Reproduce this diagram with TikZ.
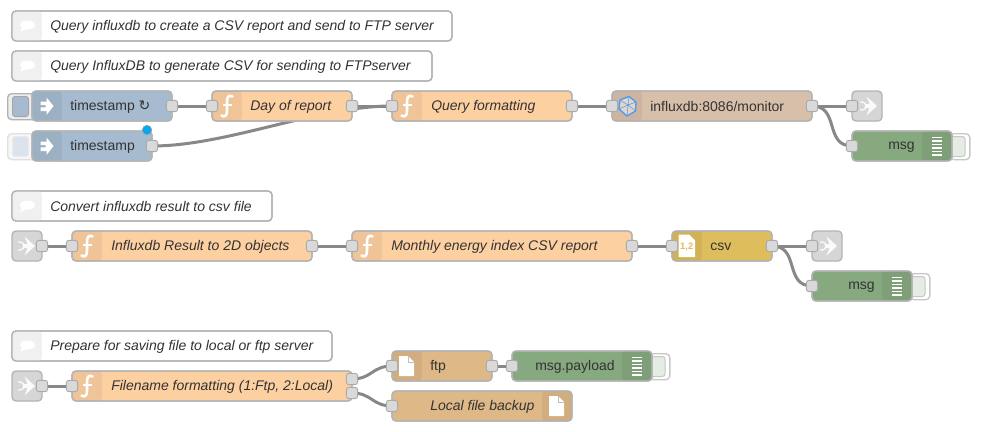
\documentclass[tikz,border=0pt]{standalone}
\usepackage{fontspec}
\setmainfont{Liberation Sans}
\newfontfamily\symfont{DejaVu Sans}
\usetikzlibrary{backgrounds}
\definecolor{cinject}{HTML}{A6BBCF}
\definecolor{cfunc}{HTML}{FDD0A2}
\definecolor{cfile}{HTML}{DEB887}
\definecolor{cdebug}{HTML}{87A980}
\definecolor{ccsv}{HTML}{DEBD5C}
\definecolor{cinflux}{HTML}{D8BFAA}
\definecolor{clink}{HTML}{D6D6D6}
\definecolor{cborder}{HTML}{B4B4B4}
\definecolor{cport}{HTML}{D9D9D9}
\definecolor{cwire}{HTML}{888888}
\definecolor{ctext}{HTML}{333333}
\definecolor{cblue}{HTML}{4A9CF2}
\definecolor{cdot}{HTML}{00A9F0}
\tikzset{
  nodebox/.style={draw=cborder,line width=1pt,rounded corners=3pt,inner sep=0pt,outer sep=0pt,
    anchor=north west,minimum height=22.5pt},
  commentbox/.style={nodebox,draw=black!30,fill=white},
  portbox/.style={draw=black!33,fill=cport,line width=.75pt,rounded corners=2pt,inner sep=0pt,
    minimum size=8.5pt},
  lbl/.style={anchor=west,inner sep=0pt,yshift=-0.6pt,text=ctext,font=\fontsize{10.5}{12}\selectfont},
  ilbl/.style={lbl,font=\fontsize{10.5}{12}\selectfont\itshape},
  wirepath/.style={draw=cwire,line width=2.25pt},
}
% name, x, y, w, colour
\newcommand\nrbody[5]{\node[nodebox,fill=#5,minimum width={#4*0.75pt}] (#1) at (#2,#3) {};}
% x, y, w of shaded panel
\newcommand\nrshade[3]{\begin{scope}
  \clip[rounded corners=3pt] (#1,#2) rectangle +(#3,30);
  \fill[black,opacity=.055] (#1,#2) rectangle +(#3,30);
  \end{scope}}
\newcommand\nrport[3]{\node[portbox] (#1) at (#2,#3) {};}
\newcommand\iconfunc[2]{\begin{scope}[shift={(#1,#2)}]
  \draw[white,line width=1.9pt,line cap=round] (20.5,5.5) .. controls (16.5,3.5) and (15,6) .. (15,11) -- (15,20) .. controls (15,25) and (12.5,26.5) .. (9.5,24.5);
  \draw[white,line width=1.5pt] (11,14) -- (20,14);
  \end{scope}}
\newcommand\iconinject[2]{\begin{scope}[shift={(#1,#2)}]
  \fill[white] (8.5,10.5) -- (14.5,10.5) -- (14.5,6.5) -- (21.5,15) -- (14.5,24) -- (14.5,20) -- (8.5,20) -- (8.5,16.4) -- (13.5,16.4) -- (13.5,14.2) -- (8.5,14.2) -- cycle;
  \end{scope}}
\newcommand\iconcomment[2]{\begin{scope}[shift={(#1,#2)}]
  \fill[white] (15.5,14) ellipse [x radius=7.5,y radius=4.5];
  \fill[white] (10,16) -- (8,21) -- (15,18) -- cycle;
  \end{scope}}
\newcommand\iconfile[2]{\begin{scope}[shift={(#1,#2)}]
  \fill[white] (7,5) -- (16,5) -- (22,11) -- (22,25) -- (7,25) -- cycle;
  \draw[black!25,line width=.4pt] (16,5) -- (16,11) -- (22,11);
  \end{scope}}
\newcommand\iconcsv[3]{\begin{scope}[shift={(#1,#2)}]
  \fill[white] (6.5,3.5) -- (17,3.5) -- (23,9.5) -- (23,26) -- (6.5,26) -- cycle;
  \node[inner sep=0pt,text=ccsv,font=\fontsize{7}{8}\selectfont\bfseries] (#3) at (14.7,16) {1,2};
  \end{scope}}
\newcommand\icondebug[2]{\begin{scope}[shift={(#1,#2)}]
  \foreach \yy in {6.5,10,13.5,17,20.5,24} \fill[white] (10,\yy-.6) rectangle (20,\yy+.6);
  \end{scope}}
\newcommand\iconlinkout[2]{\begin{scope}[shift={(#1,#2),opacity=.9}]
  \fill[white] (15,5) -- (25,15) -- (15,25) -- (18,17) -- (13,17) -- (13,13) -- (18,13) -- cycle;
  \draw[white,line width=1pt] (8,11) -- (10,11) arc (-90:90:4) -- (8,19);
  \end{scope}}
\newcommand\iconlinkin[2]{\begin{scope}[shift={(#1,#2)},opacity=.9]
  \fill[white] (12.5,5.5) -- (23,15) -- (12.5,24.5) -- (15.5,17) -- (11,17) -- (11,13) -- (15.5,13) -- cycle;
  \draw[white,line width=1pt] (6,11) -- (8,11) arc (-90:90:4) -- (6,19);
  \end{scope}}
\newcommand\iconinflux[2]{\begin{scope}[shift={(#1,#2)}]
  \fill[white,opacity=.45] (8,9) -- (17,5.5) -- (24,11) -- (23.5,20) -- (15,25) -- (7,18) -- cycle;
  \draw[cblue,line width=1pt,line join=round] (8,9) -- (17,5.5) -- (24,11) -- (23.5,20) -- (15,25) -- (7,18) -- cycle;
  \draw[cblue,line width=.4pt] (8,9) -- (16,14) -- (24,11) (16,14) -- (17,5.5) (16,14) -- (15,25) (16,14) -- (7,18) (16,14) -- (23.5,20);
  \end{scope}}
% name, x, y, w, text, text x
\newcommand\nrcomment[6]{\node[commentbox,minimum width={#4*0.75pt}] (#1) at (#2,#3) {};
  \begin{scope}
  \clip[rounded corners=3pt] (#2,#3) rectangle +(30,30);
  \fill[black!6] (#2,#3) rectangle +(30,30);
  \end{scope}
  \draw[draw=black!30,line width=1pt,rounded corners=3pt] (#2,#3) rectangle +(#4,30);
  \iconcomment{#2}{#3}
  \node[ilbl] (#1-label) at (#6,#3+15) {#5};}
% x, y, w: outline redraw
\newcommand\nroutline[3]{\draw[cborder,line width=1pt,rounded corners=3pt] (#1,#2) rectangle +(#3,30);}
% name, x, y, colour
\newcommand\debugbtn[4]{
  \node[draw=black!22,fill=white,line width=1pt,rounded corners=3pt,minimum width=15pt,minimum height=19.5pt,inner sep=0pt,anchor=north east] (#1) at (#2,#3) {};
  \node[draw=black!22,fill=#4!22!white,line width=.75pt,rounded corners=2pt,minimum width=12pt,minimum height=15pt,inner sep=0pt,anchor=north east] (#1-face) at (#2-5,#3+3) {};}
\newcommand\wirecurve[3]{\draw[wirepath] (#1.center) .. controls +(#3,0) and +(-#3,0) .. (#2.center);}
\begin{document}
\begin{tikzpicture}[x=0.75pt,y=-0.75pt]
\useasboundingbox (0,0) rectangle (983,432);
\begin{pgfonlayer}{background}
\fill[white] (0,0) rectangle (983,432);
\end{pgfonlayer}

\nrcomment{c1}{12}{11}{440}{Query influxdb to create a CSV report and send to FTP server}{50}
\nrcomment{c2}{12}{51}{420}{Query InfluxDB to generate CSV for sending to FTPserver}{50}
\nrcomment{c3}{12}{191}{260}{Convert influxdb result to csv file}{50}
\nrcomment{c4}{12}{331}{320}{Prepare for saving file to local or ftp server}{50}

% inject buttons
\node[draw=black!30,fill=black!7,line width=1pt,rounded corners=3pt,minimum width=24pt,minimum height=19.5pt,inner sep=0pt,anchor=north west] (btn1) at (7,93) {};
\node[draw=black!35,fill=cinject,line width=.75pt,rounded corners=2pt,minimum width=12pt,minimum height=15pt,inner sep=0pt,anchor=north west] (btn1-face) at (12,96) {};
\node[draw=black!12,fill=black!3,line width=1pt,rounded corners=3pt,minimum width=24pt,minimum height=19.5pt,inner sep=0pt,anchor=north west] (btn2) at (7,133) {};
\node[draw=black!8,fill=cinject!40!white,line width=.75pt,rounded corners=2pt,minimum width=12pt,minimum height=15pt,inner sep=0pt,anchor=north west] (btn2-face) at (12,136) {};

% row 1
\nrbody{ts1}{32}{91}{140}{cinject}\nrshade{32}{91}{30}\nroutline{32}{91}{140}\iconinject{32}{91}
\node[lbl] (ts1-label) at (70,106) {timestamp {\symfont ↻}};
\nrport{ts1-out}{172}{106}

\nrbody{ts2}{32}{131}{120}{cinject}\nrshade{32}{131}{30}\nroutline{32}{131}{120}\iconinject{32}{131}
\node[lbl] (ts2-label) at (70,146) {timestamp};
\nrport{ts2-out}{152}{146}
\node[circle,fill=cdot,draw=black!40,line width=.5pt,minimum size=7pt,inner sep=0pt] (ts2-changed) at (147,130) {};

\nrbody{day}{212}{91}{140}{cfunc}\nrshade{212}{91}{30}\nroutline{212}{91}{140}\iconfunc{212}{91}
\node[ilbl] (day-label) at (250,106) {Day of report};
\nrport{day-in}{212}{106}\nrport{day-out}{352}{106}

\nrbody{qf}{392}{91}{180}{cfunc}\nrshade{392}{91}{30}\nroutline{392}{91}{180}\iconfunc{392}{91}
\node[ilbl] (qf-label) at (431,106) {Query formatting};
\nrport{qf-in}{392}{106}\nrport{qf-out}{572}{106}

\nrbody{inf}{612}{91}{200}{cinflux}\nrshade{612}{91}{30}\nroutline{612}{91}{200}\iconinflux{612}{91}
\node[lbl] (inf-label) at (650,106) {influxdb:8086/monitor};
\nrport{inf-in}{612}{106}\nrport{inf-out}{812}{106}

\nrbody{lo1}{852}{91}{30}{clink}\iconlinkin{854}{91}
\nrport{lo1-in}{852}{106}

\debugbtn{d1btn}{970.5}{133}{cdebug}
\nrbody{d1}{852}{131}{100}{cdebug}\nrshade{922}{131}{30}\nroutline{852}{131}{100}\icondebug{922}{131}
\node[lbl] (d1-label) at (888,146) {msg};
\nrport{d1-in}{852}{146}

% row 2
\nrbody{li2}{12}{231}{30}{clink}\iconlinkin{12}{231}
\nrport{li2-out}{42}{246}

\nrbody{ir}{72}{231}{240}{cfunc}\nrshade{72}{231}{30}\nroutline{72}{231}{240}\iconfunc{72}{231}
\node[ilbl] (ir-label) at (111,246) {Influxdb Result to 2D objects};
\nrport{ir-in}{72}{246}\nrport{ir-out}{312}{246}

\nrbody{mo}{352}{231}{280}{cfunc}\nrshade{352}{231}{30}\nroutline{352}{231}{280}\iconfunc{352}{231}
\node[ilbl] (mo-label) at (391,246) {Monthly energy index CSV report};
\nrport{mo-in}{352}{246}\nrport{mo-out}{632}{246}

\nrbody{csv}{672}{231}{100}{ccsv}\nrshade{672}{231}{30}\nroutline{672}{231}{100}\iconcsv{672}{231}{csv-icon}
\node[lbl] (csv-label) at (710,246) {csv};
\nrport{csv-in}{672}{246}\nrport{csv-out}{772}{246}

\nrbody{lo2}{812}{231}{30}{clink}\iconlinkin{814}{231}
\nrport{lo2-in}{812}{246}

\debugbtn{d2btn}{930.5}{273}{cdebug}
\nrbody{d2}{812}{271}{100}{cdebug}\nrshade{882}{271}{30}\nroutline{812}{271}{100}\icondebug{882}{271}
\node[lbl] (d2-label) at (848,286) {msg};
\nrport{d2-in}{812}{286}

% row 3
\nrbody{li3}{12}{371}{30}{clink}\iconlinkin{12}{371}
\nrport{li3-out}{42}{386}

\nrbody{fn}{72}{371}{280}{cfunc}\nrshade{72}{371}{30}\nroutline{72}{371}{280}\iconfunc{72}{371}
\node[ilbl] (fn-label) at (111,386) {Filename formatting (1:Ftp, 2:Local)};
\nrport{fn-in}{72}{386}\nrport{fn-o1}{352}{379}\nrport{fn-o2}{352}{393}

\nrbody{ftp}{392}{351}{100}{cfile}\nrshade{392}{351}{30}\nroutline{392}{351}{100}\iconfile{392}{351}
\node[lbl] (ftp-label) at (430,366) {ftp};
\nrport{ftp-in}{392}{366}\nrport{ftp-out}{492}{366}

\debugbtn{d3btn}{670.5}{353}{cdebug}
\nrbody{d3}{512}{351}{140}{cdebug}\nrshade{622}{351}{30}\nroutline{512}{351}{140}\icondebug{622}{351}
\node[lbl] (d3-label) at (535,366) {msg.payload};
\nrport{d3-in}{512}{366}

\nrbody{lf}{392}{391}{180}{cfile}\nrshade{542}{391}{30}\nroutline{392}{391}{180}\iconfile{542}{391}
\node[ilbl] (lf-label) at (430,406) {Local file backup};
\nrport{lf-in}{392}{406}

\begin{pgfonlayer}{background}
\wirecurve{ts1-out}{day-in}{15}
\wirecurve{day-out}{qf-in}{15}
\wirecurve{ts2-out}{qf-in}{75}
\wirecurve{qf-out}{inf-in}{15}
\wirecurve{inf-out}{lo1-in}{15}
\wirecurve{inf-out}{d1-in}{28}
\wirecurve{li2-out}{ir-in}{10}
\wirecurve{ir-out}{mo-in}{15}
\wirecurve{mo-out}{csv-in}{15}
\wirecurve{csv-out}{lo2-in}{15}
\wirecurve{csv-out}{d2-in}{28}
\wirecurve{li3-out}{fn-in}{10}
\wirecurve{fn-o1}{ftp-in}{20}
\wirecurve{fn-o2}{lf-in}{20}
\wirecurve{ftp-out}{d3-in}{7}
\end{pgfonlayer}
\end{tikzpicture}
\end{document}
